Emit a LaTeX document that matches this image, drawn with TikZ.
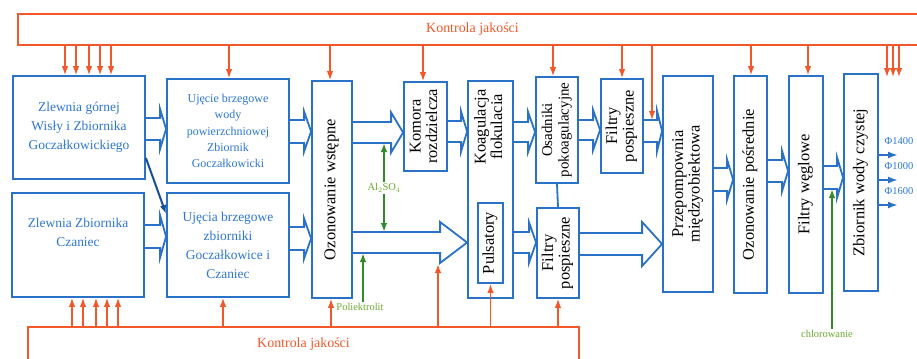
\documentclass[tikz,border=0pt]{standalone}
\usepackage{fontspec}
\setmainfont{Liberation Serif}
\usepackage{graphicx}
\usetikzlibrary{calc, arrows.meta, positioning}

\definecolor{boxblue}{RGB}{42,114,200}
\definecolor{txtblue}{RGB}{45,118,212}
\definecolor{darkblue}{RGB}{28,78,152}
\definecolor{qcred}{RGB}{244,88,42}
\definecolor{addgreen}{RGB}{48,140,42}
\definecolor{labgreen}{RGB}{108,170,48}

% rotated (bottom to top) box text
\newcommand{\vtext}[1]{\rotatebox{90}{\begin{tabular}{@{}c@{}}#1\end{tabular}}}
% hollow block arrow: from, to, y, half shaft, half head, head length
\newcommand{\blockflow}[6]{%
  \draw[flowline] let \p1=(#1.east |- 0,#3), \p2=(#2.west |- 0,#3) in
    (\x1,\y1+#4bp) -- (\x2-#6bp,\y1+#4bp) -- (\x2-#6bp,\y1+#5bp) -- (\x2,\y1)
    -- (\x2-#6bp,\y1-#5bp) -- (\x2-#6bp,\y1-#4bp) -- (\x1,\y1-#4bp);}

\tikzset{
    box/.style 2 args ={draw=boxblue, line width=1.8bp, inner sep=0pt, minimum width=#1bp, minimum height=#2bp}, % size in pixels of the scan
    hbox/.style 2 args ={box={#1}{#2}, align=center, text=txtblue, font=\fontsize{13.5}{19}\selectfont},
    vbox/.style 2 args ={box={#1}{#2}, text=black, font=\fontsize{16.5}{16.5}\selectfont},
    qcbox/.style ={draw=qcred, line width=1.4bp, inner sep=0pt, text=qcred, font=\fontsize{14}{16}\selectfont},
    flowline/.style ={draw=boxblue, line width=1.8bp, line join=miter},
    qcarrow/.style ={draw=qcred, line width=1.4bp, -{Latex[length=9bp,width=6.5bp]}},
    addarrow/.style ={draw=addgreen, line width=2bp, -{Latex[length=9bp,width=6.5bp]}},
    addlabel/.style ={text=labgreen, inner sep=1bp, font=\fontsize{10.5}{12}\selectfont}
}

\begin{document}
\begin{tikzpicture}[x=1bp, y=-1bp]
\useasboundingbox (0,0) rectangle (917,358);
\fill[white] (0,0) rectangle (917,358);
\clip (0,0) rectangle (917,358);

% quality control frames
\node[qcbox, minimum width=909bp, minimum height=31bp] (qctop) at (472.5,29.5) {Kontrola jakości};
\node[qcbox, minimum width=551bp, minimum height=34bp] (qcbot) at (303.5,344) {Kontrola jakości};

% intakes
\node[hbox={132}{103}] (zg) at (79,127.5) {Zlewnia górnej\\Wisły i Zbiornika\\Goczałkowickiego};
\node[box={132}{104}] (zc) at (78,245) {};
\node[align=center, text=txtblue, font=\fontsize{13.5}{19}\selectfont] (zc-t) at (78,232) {Zlewnia Zbiornika\\Czaniec};
\node[hbox={122}{104}, font=\fontsize{12}{16.5}\selectfont] (uj1) at (228,131) {Ujęcie brzegowe\\wody\\powierzchniowej\\Zbiornik\\Goczałkowicki};
\node[hbox={122}{104}] (uj2) at (228,245) {Ujęcia brzegowe\\zbiorniki\\Goczałkowice i\\Czaniec};

% treatment line
\node[vbox={40}{217}] (ozw) at (332,189.5) {\vtext{Ozonowanie wstępne}};
\node[vbox={43}{89}] (kom) at (425.5,126.5) {\vtext{Komora\\rozdzielcza}};
\node[box={45}{217}] (koag) at (490.5,189.5) {};
\node[vbox={1}{1}, draw=none] (koag-t) at (490.5,127) {\vtext{Koagulacja\\flokulacia}};
\node[vbox={25}{80}] (puls) at (490.5,243) {\vtext{Pulsatory}};
\node[vbox={42}{106}, font=\fontsize{15}{16.5}\selectfont] (osad) at (557,130) {\vtext{Osadniki\\pokoagulacyjne}};
\node[vbox={42}{90}] (filt2) at (558,253) {\vtext{Filtry\\pospieszne}};
\node[vbox={42}{94}] (filt1) at (622,126) {\vtext{Filtry\\pospieszne}};
\node[vbox={50}{216}] (prz) at (688,184) {\vtext{Przepompownia\\międzyobiektowa}};
\node[vbox={33}{217}] (ozp) at (750.5,184.5) {\vtext{Ozonowanie pośrednie}};
\node[vbox={34}{217}] (fw) at (806,184.5) {\vtext{Filtry węglowe}};
\node[vbox={34}{217}] (zb) at (861,182.5) {\vtext{Zbiornik wody czystej}};
\draw[boxblue, line width=1.8bp] (osad.south) -- (filt2.north);

% flows
\blockflow{zg}{uj1}{129}{11}{20}{6}
\blockflow{zc}{uj2}{236.5}{11.5}{21}{6}
\blockflow{uj1}{ozw}{131.5}{11.5}{20}{7}
\blockflow{uj2}{ozw}{238.5}{11.5}{20}{7}
\blockflow{ozw}{kom}{132.5}{10.5}{20}{12}
\blockflow{ozw}{koag}{242.5}{10.5}{20.5}{27}
\blockflow{kom}{koag}{131.5}{10.5}{20}{6}
\blockflow{koag}{osad}{132}{10}{20}{7}
\blockflow{osad}{filt1}{130}{10}{20}{7}
\blockflow{koag}{filt2}{242.5}{10.5}{20}{7}
\blockflow{filt2}{prz}{244}{11}{22}{20}
\blockflow{filt1}{prz}{131}{11}{20}{5}
\blockflow{prz}{ozp}{179.5}{11.5}{20}{6}
\blockflow{ozp}{fw}{171}{11}{20}{6}
\blockflow{fw}{zb}{177.5}{11.5}{20}{6}
\draw[darkblue, line width=2bp, -{Latex[length=9bp,width=6.5bp]}] (zg.east |- 0,158) -- (uj2.west |- 0,214);

% quality control arrows
\coordinate (a12top) at (652,120);
\coordinate (a6head) at (438,264);
\coordinate (rtend) at (0,77);
\foreach \x in {65,76,89,100,111} \draw[qcarrow] (qctop.south -| \x,0) -- (zg.north -| \x,0);
\draw[qcarrow] (qctop.south -| 229,0) -- (uj1.north -| 229,0);
\draw[qcarrow] (qctop.south -| 330,0) -- (ozw.north -| 330,0);
\draw[qcarrow] (qctop.south -| 423,0) -- (kom.north -| 423,0);
\draw[qcarrow] (qctop.south -| 553,0) -- (osad.north -| 553,0);
\draw[qcarrow] (qctop.south -| 622,0) -- (filt1.north -| 622,0);
\draw[qcarrow] (qctop.south -| a12top) -- (a12top);
\draw[qcarrow] (qctop.south -| 751,0) -- (ozp.north -| 751,0);
\draw[qcarrow] (qctop.south -| 808,0) -- (fw.north -| 808,0);
\foreach \x in {887,893,899} \draw[qcarrow] (qctop.south -| \x,0) -- (rtend -| \x,0);
\foreach \x in {72,83,96,107,118} \draw[qcarrow] (qcbot.north -| \x,0) -- (zc.south -| \x,0);
\draw[qcarrow] (qcbot.north -| 223,0) -- (uj2.south -| 223,0);
\draw[qcarrow] (qcbot.north -| 331,0) -- (ozw.south -| 331,0);
\draw[qcarrow] (qcbot.north -| a6head) -- (a6head);
\draw[qcarrow] (qcbot.north -| puls) -- (puls.south);
\draw[qcarrow] (qcbot.north -| filt2) -- (filt2.south);

% chemicals
\node[addlabel] (al) at (384,188) {Al$_2$SO$_4$};
\node[addlabel] (pol) at (360,307) {Poliektrolit};
\node[addlabel] (chl) at (827,334) {chlorowanie};
\coordinate (alup) at (384,143);
\coordinate (aldown) at (384,232);
\coordinate (polup) at (363,253);
\coordinate (chlup) at (832,189);
\draw[addarrow] (al.north) -- (alup);
\draw[addarrow] (al.south) -- (aldown);
\draw[addarrow] (pol.north -| polup) -- (polup);
\draw[addarrow] (chl.north -| chlup) -- (chlup);

% outlets
\foreach \y/\d [count=\i] in {155/1400, 180/1000, 205/1600} {
  \coordinate (out\i) at (898,\y);
  \draw[boxblue, line width=1.8bp, -{Latex[length=10bp,width=7bp]}] (zb.east |- out\i) -- (out\i);
  \node[text=txtblue, inner sep=0pt, font=\fontsize{10.5}{12}\selectfont] (phi\i) at (899,\y-14) {Φ\d};
}
\end{tikzpicture}
\end{document}
